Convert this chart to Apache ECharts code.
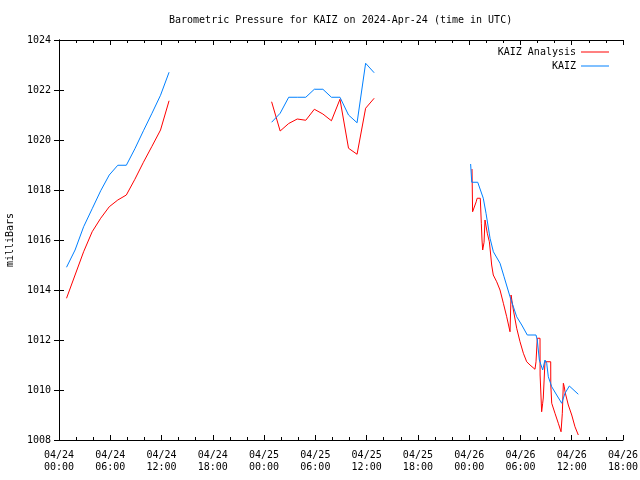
<!DOCTYPE html>
<html><head><meta charset="utf-8">
<script src="https://cdn.jsdelivr.net/npm/echarts@6/dist/echarts.min.js"></script>
<style>html,body{margin:0;padding:0;background:#fff}#c{width:640px;height:480px}</style>
</head><body><div id="c"></div>
<script>
// Hours since 2024-04-24 00:00 UTC
const xTickLabels = ['04/24\n00:00','04/24\n06:00','04/24\n12:00','04/24\n18:00','04/25\n00:00','04/25\n06:00','04/25\n12:00','04/25\n18:00','04/26\n00:00','04/26\n06:00','04/26\n12:00','04/26\n18:00'];

// KAIZ Analysis (red)
const analysisHours24 = [0.88,1.88,2.88,3.88,4.88,5.88,6.88,7.88,8.88,9.88,10.88,11.88,12.88];
const analysisPres24  = [1013.67,1014.6,1015.53,1016.33,1016.87,1017.33,1017.6,1017.8,1018.43,1019.11,1019.75,1020.4,1021.57];
const analysisHours25 = [24.88,25.88,26.88,27.88,28.88,29.88,30.88,31.88,32.88,33.88,34.88,35.88,36.88];
const analysisPres25  = [1021.53,1020.36,1020.66,1020.84,1020.79,1021.23,1021.04,1020.77,1021.63,1019.67,1019.43,1021.27,1021.67];
const analysisHours26 = [48.33,48.4,48.62,48.82,48.93,49.3,49.35,49.42,49.5,49.58,49.73,49.74,49.85,50.05,50.12,50.28,50.36,50.52,50.63,50.82,51.22,51.61,52.0,52.39,52.78,52.9,53.17,53.56,53.95,54.34,54.73,55.12,55.7,55.82,55.97,56.29,56.3,56.48,56.6,56.67,56.87,57.54,57.55,57.66,58.04,58.43,58.75,58.87,58.9,59.02,59.13,59.21,59.6,60.0,60.38,60.77];
const analysisPres26  = [1018.84,1017.13,1017.13,1017.53,1017.67,1017.67,1017.67,1016.67,1016.0,1015.6,1015.6,1015.91,1016.8,1016.8,1016.27,1016.33,1015.93,1015.4,1015.0,1014.6,1014.33,1014.0,1013.47,1012.93,1012.33,1013.8,1013.2,1012.47,1011.93,1011.47,1011.13,1011.0,1010.83,1011.13,1012.07,1012.07,1010.6,1009.13,1009.47,1009.68,1011.13,1011.13,1010.2,1009.47,1009.07,1008.67,1008.33,1008.33,1009.07,1010.27,1010.13,1009.93,1009.4,1009.0,1008.53,1008.2];

// KAIZ observed (blue)
const kaizHours24 = [0.88,1.88,2.88,3.88,4.88,5.88,6.88,7.88,8.88,9.88,10.88,11.88,12.88];
const kaizPres24  = [1014.91,1015.6,1016.53,1017.25,1017.97,1018.6,1018.99,1018.99,1019.65,1020.37,1021.07,1021.79,1022.71];
const kaizHours25 = [24.88,25.88,26.88,27.88,28.88,29.88,30.88,31.88,32.88,33.88,34.88,35.88,36.88];
const kaizPres25  = [1020.71,1021.07,1021.71,1021.71,1021.71,1022.03,1022.03,1021.71,1021.71,1021.0,1020.69,1023.07,1022.69];
const kaizHours26 = [48.17,48.3,49.0,49.65,49.97,50.44,50.83,51.61,52.08,52.78,53.56,54.15,54.8,55.82,55.97,56.21,56.6,56.87,57.07,57.26,57.66,58.24,58.83,59.21,59.72,60.77];
const kaizPres26  = [1019.04,1018.31,1018.31,1017.67,1017.07,1016.07,1015.53,1015.07,1014.53,1013.73,1012.93,1012.6,1012.2,1012.2,1012.0,1011.2,1010.8,1011.2,1011.07,1010.53,1010.13,1009.8,1009.47,1009.87,1010.16,1009.83];

const FONT = 'DejaVu Sans Mono';
const RED = '#ff0000', BLUE = '#0080ff';

function seg(name, color, hours, vals) {
  return {
    name, type: 'line', data: hours.map((h, i) => [h, vals[i]]),
    showSymbol: false, symbol: 'none', smooth: false,
    lineStyle: { color, width: 1 }, itemStyle: { color },
    emphasis: { disabled: true }, animation: false,
    xAxisIndex: 0, yAxisIndex: 0
  };
}

const axisLineStyle = { show: true, lineStyle: { color: '#000', width: 1 } };
const xBase = {
  type: 'value', min: 0, max: 66, interval: 6,
  axisLine: axisLineStyle,
  axisTick: { show: true, inside: true, length: 5, lineStyle: { color: '#000' } },
  minorTick: { show: true, splitNumber: 3, length: 3, lineStyle: { color: '#000' } },
  splitLine: { show: false }, minorSplitLine: { show: false }
};
const yBase = {
  type: 'value', min: 1008, max: 1024, interval: 2,
  axisLine: axisLineStyle,
  axisTick: { show: true, inside: true, length: 5, lineStyle: { color: '#000' } },
  splitLine: { show: false }
};
const legendBase = {
  orient: 'vertical', align: 'right', right: 26, icon: 'rect',
  itemWidth: 28, itemHeight: 1, selectedMode: false,
  textStyle: { fontFamily: FONT, fontSize: 10, color: '#000' }
};

const chart = echarts.init(document.getElementById('c'), null, { renderer: 'canvas' });
chart.setOption({
  animation: false,
  backgroundColor: '#fff',
  title: {
    text: 'Barometric Pressure for KAIZ on 2024-Apr-24 (time in UTC)',
    left: 164, top: 10,
    textStyle: { fontFamily: FONT, fontSize: 10, fontWeight: 'normal', color: '#000' }
  },
  legend: [
    Object.assign({}, legendBase, { data: ['KAIZ Analysis'], top: 42 }),
    Object.assign({}, legendBase, { data: ['KAIZ'], top: 56 })
  ],
  grid: { left: 59, right: 17, top: 40, bottom: 40, containLabel: false, outerBoundsMode: 'none' },
  xAxis: [
    Object.assign({}, xBase, {
      position: 'bottom',
      axisLabel: {
        fontFamily: FONT, fontSize: 10, color: '#000', lineHeight: 12, margin: 9,
        formatter: v => xTickLabels[Math.round(v / 6)]
      }
    }),
    Object.assign({}, xBase, { position: 'top', axisLabel: { show: false } })
  ],
  yAxis: [
    Object.assign({}, yBase, {
      position: 'left',
      name: 'milliBars', nameLocation: 'middle', nameGap: 44, nameRotate: 90,
      nameTextStyle: { fontFamily: FONT, fontSize: 10, color: '#000' },
      axisLabel: { fontFamily: FONT, fontSize: 10, color: '#000', margin: 8, formatter: v => String(v) }
    }),
    Object.assign({}, yBase, { position: 'right', axisLabel: { show: false } })
  ],
  series: [
    seg('KAIZ Analysis', RED, analysisHours24, analysisPres24),
    seg('KAIZ Analysis', RED, analysisHours25, analysisPres25),
    seg('KAIZ Analysis', RED, analysisHours26, analysisPres26),
    seg('KAIZ', BLUE, kaizHours24, kaizPres24),
    seg('KAIZ', BLUE, kaizHours25, kaizPres25),
    seg('KAIZ', BLUE, kaizHours26, kaizPres26)
  ]
});
</script></body></html>
